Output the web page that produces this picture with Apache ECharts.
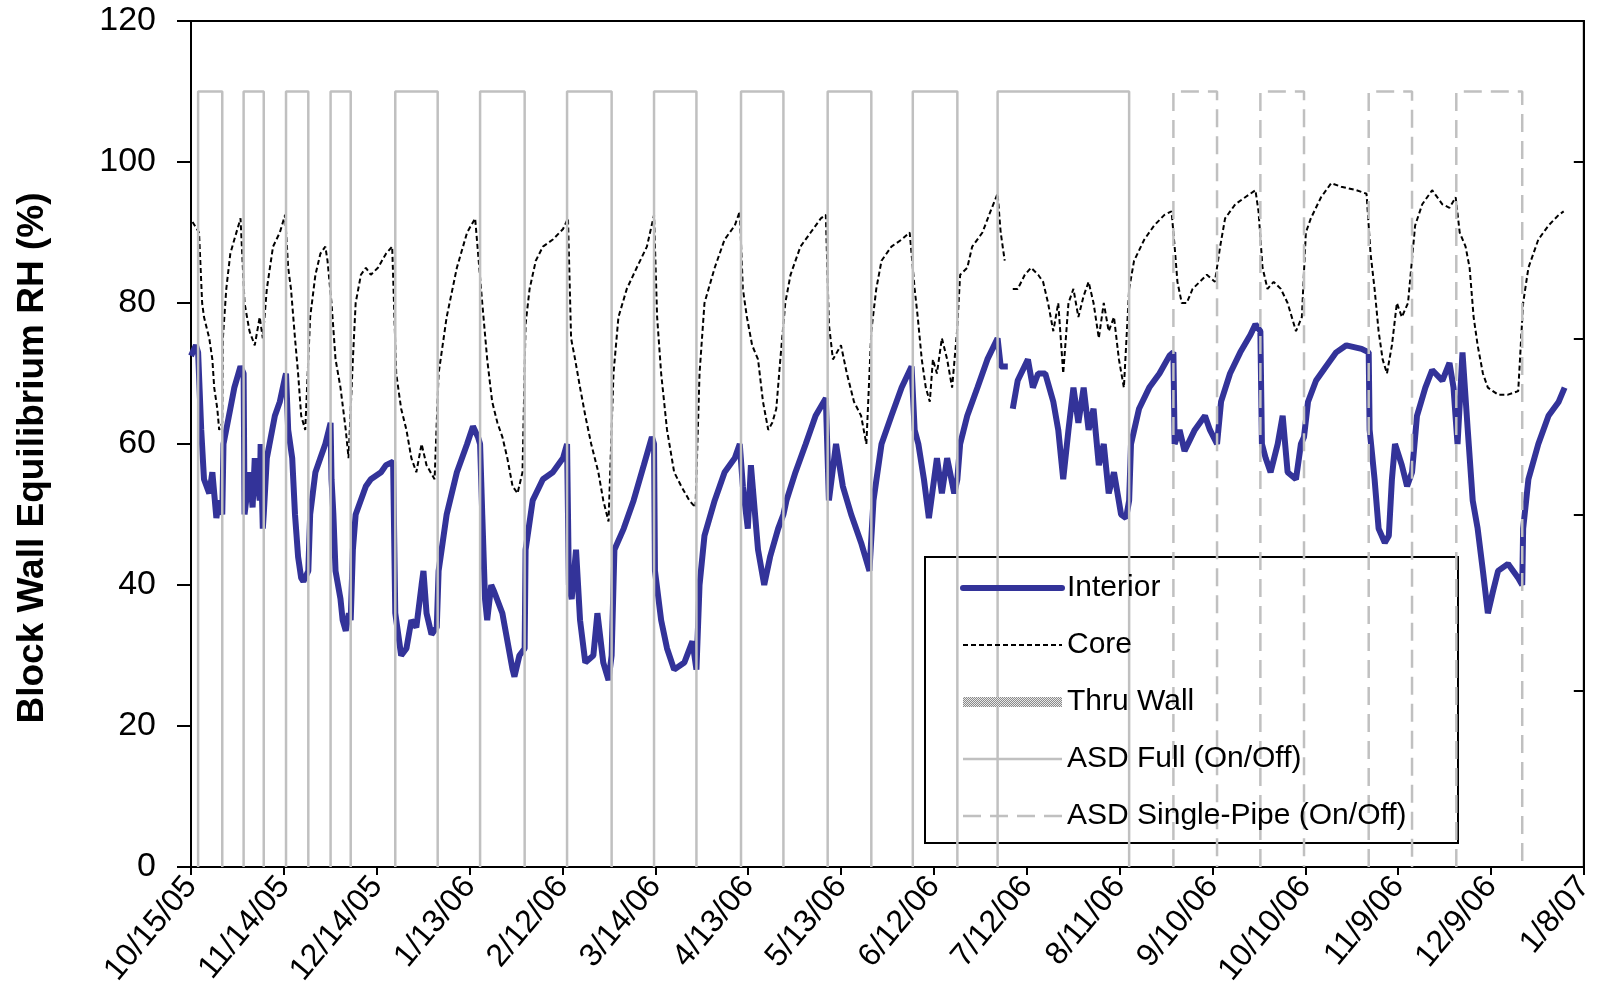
<!DOCTYPE html>
<html>
<head>
<meta charset="utf-8">
<script src="https://cdn.jsdelivr.net/npm/echarts@6/dist/echarts.min.js"></script>
<style>
html, body { margin: 0; padding: 0; background: #fff; }
#main { width: 1598px; height: 1000px; }
</style>
</head>
<body>
<div id="main"></div>
<script>
// x axis is days since 10/15/05, ticks every 30 days
const dateLabels = ['10/15/05', '11/14/05', '12/14/05', '1/13/06', '2/12/06', '3/14/06', '4/13/06', '5/13/06',
    '6/12/06', '7/12/06', '8/11/06', '9/10/06', '10/10/06', '11/9/06', '12/9/06', '1/8/07'];

// ASD on/off periods [start day, end day]
const asdFullPeriods = [[2.3, 10.1], [17.0, 23.5], [30.7, 37.9], [45.1, 51.6], [66.0, 79.7], [93.4, 107.8],
    [121.5, 135.9], [149.6, 163.3], [177.7, 191.4], [205.7, 219.8], [233.2, 247.6], [260.6, 303.1]];
const asdSinglePeriods = [[317.4, 331.5], [345.5, 359.6], [380.5, 394.5], [408.8, 430.1]];
const asdOn = 110;

// [day, RH %]
const interior = [[0, 72.5], [1.6, 74], [2.3, 73], [3.3, 62], [4.2, 55], [5.9, 53], [6.9, 56], [8.2, 49.5], [9.1, 52], [10.1, 50],
    [10.5, 60], [12.7, 65], [14.0, 68], [16.0, 71], [17.0, 70],
    [17.3, 50], [18.9, 56], [19.9, 51], [20.6, 58], [22.2, 52], [22.5, 60], [23.2, 48], [23.5, 50], [24.5, 58], [27.1, 64], [28.7, 66], [30.4, 69.5],
    [30.7, 70], [31.4, 62], [32.7, 58], [33.6, 50], [34.6, 44], [35.6, 41], [36.3, 40.5], [37.9, 42], [38.5, 50], [40.2, 56], [41.8, 58], [43.4, 60], [45.1, 63],
    [45.4, 55], [46.0, 50], [46.7, 42], [48.3, 38], [49.0, 35], [50.0, 33.5], [51.0, 36], [51.6, 35], [52.3, 45], [53.2, 50], [56.5, 54], [58.1, 55], [61.4, 56], [63.0, 57], [65.3, 57.5],
    [66.0, 36], [67.9, 30], [69.6, 31], [71.2, 35], [72.8, 34], [74.5, 40], [75.1, 42], [76.1, 36], [77.7, 33], [79.4, 34],
    [80.0, 42], [82.6, 50], [85.9, 56], [89.2, 60], [91.1, 62.5], [92.7, 61], [93.4, 60],
    [94.1, 50], [95.0, 38], [95.7, 35], [97.0, 40], [98.0, 39], [100.6, 36], [103.9, 28], [104.5, 27], [106.1, 30], [107.8, 31],
    [108.1, 45], [110.4, 52], [113.7, 55], [116.9, 56], [120.2, 58], [121.5, 60],
    [122.1, 40], [123.0, 38], [124.4, 45], [125.7, 35], [127.4, 29], [130.0, 30], [131.3, 36], [133.2, 29], [134.9, 26.5], [135.9, 30],
    [136.8, 45], [139.8, 48], [143.0, 52], [146.3, 57], [148.9, 61], [149.6, 60],
    [149.9, 42], [151.9, 35], [153.8, 31], [156.1, 28], [159.4, 29], [162.0, 32], [163.3, 28],
    [164.3, 40], [165.9, 47], [169.2, 52], [172.4, 56], [175.7, 58], [177.3, 60],
    [178.3, 54], [179.9, 48], [180.9, 57], [183.2, 45], [185.2, 40], [187.1, 44], [189.7, 48], [191.4, 50],
    [192.4, 52], [195.3, 56], [198.6, 60], [201.8, 64], [205.1, 66.5],
    [206.1, 52], [208.4, 60], [210.6, 54], [213.3, 50], [216.5, 46], [219.2, 42],
    [220.5, 52], [223.1, 60], [226.3, 64], [229.6, 68], [232.8, 71],
    [233.8, 62], [235.0, 60], [236.8, 55], [238.4, 49.5], [241.0, 58], [242.6, 53], [244.3, 58], [246.6, 53], [247.6, 55],
    [248.5, 60], [250.8, 64], [254.1, 68], [257.3, 72], [260.6, 75], [261.6, 71], [263.9, 71], [264.7, null],
    [265.5, 65], [267.1, 69], [270.4, 72], [272.0, 68], [273.7, 70], [276.0, 70],
    [278.6, 66], [280.2, 62], [281.8, 55], [283.5, 62], [285.1, 68], [286.7, 63], [288.4, 68], [290.0, 62], [291.6, 65], [293.3, 57],
    [294.9, 60], [296.5, 53], [298.2, 56], [300.5, 50], [302.1, 49.5], [303.1, 52],
    [303.7, 60], [306.3, 65], [309.6, 68], [312.9, 70], [316.1, 72.5], [317.4, 73],
    [317.8, 60], [319.4, 62], [321.0, 59], [324.3, 62], [327.6, 64], [329.2, 62], [331.5, 60],
    [332.8, 66], [335.7, 70], [339.0, 73], [342.3, 75.5], [343.9, 77], [345.5, 76],
    [346.0, 60], [347.2, 58], [348.8, 56], [351.1, 60], [352.7, 64], [354.3, 56], [357.0, 55], [358.6, 60], [359.6, 61],
    [360.9, 66], [363.5, 69], [366.7, 71], [370.0, 73], [373.3, 74], [378.2, 73.5], [380.5, 73],
    [380.8, 62], [382.4, 55], [383.7, 48], [385.7, 46], [387.0, 47],
    [388.0, 55], [389.0, 60], [391.2, 57], [392.9, 54], [394.5, 56],
    [396.1, 64], [398.8, 68], [401.0, 70.5], [404.3, 69], [406.6, 71.5], [407.9, 68], [409.2, 60], [410.8, 73], [412.5, 62],
    [414.1, 52], [415.7, 48], [417.4, 42], [419.0, 36], [420.6, 39], [422.3, 42], [425.5, 43], [428.8, 41], [430.1, 40],
    [430.4, 48], [432.1, 55], [435.3, 60], [438.6, 64], [441.9, 66], [443.8, 68]];

const core = [[0.5, 91.5], [2.6, 90], [3.6, 80], [4.2, 78], [5.9, 75], [6.9, 72], [7.5, 68], [8.5, 65], [9.1, 62], [10.1, 63],
    [10.3, 75], [11.4, 82], [12.7, 87], [14.0, 89], [16.0, 92],
    [17.3, 80], [18.9, 76], [20.6, 74], [22.2, 78], [23.2, 75],
    [24.5, 82], [26.5, 88], [28.7, 90], [30.4, 92.5],
    [31.4, 85], [32.3, 82], [33.6, 75], [34.6, 70], [35.6, 64], [36.9, 62],
    [38.5, 78], [40.2, 84], [41.8, 87], [43.4, 88], [44.1, 86],
    [45.4, 80], [46.7, 72], [48.3, 68], [50.0, 62], [50.9, 58],
    [52.3, 72], [53.2, 80], [54.9, 84], [56.5, 85], [58.1, 84], [60.4, 85], [63.0, 87], [65.0, 88],
    [66.3, 70], [67.9, 65], [69.6, 62], [71.2, 58], [72.8, 56], [74.5, 60], [76.1, 57], [78.7, 55],
    [80.0, 70], [82.6, 78], [85.9, 85], [89.2, 90], [91.8, 92],
    [94.1, 80], [95.7, 72], [97.3, 66], [99.0, 63], [100.6, 61], [102.2, 58], [103.9, 54], [105.5, 53], [107.1, 56],
    [108.1, 77], [109.4, 82], [111.4, 86], [113.7, 88], [116.9, 89], [120.2, 90.5], [121.8, 92],
    [122.8, 75], [124.1, 72], [125.7, 68], [127.4, 64], [129.3, 60], [131.6, 56], [133.2, 52], [134.9, 49],
    [136.5, 70], [138.1, 78], [140.8, 82], [144.0, 85], [147.3, 88], [149.6, 92.5],
    [150.6, 78], [151.9, 70], [153.8, 62], [156.1, 56], [158.4, 54], [161.0, 52], [163.0, 51],
    [164.3, 70], [165.9, 80], [169.2, 85], [172.4, 89], [175.7, 91], [177.3, 93],
    [178.3, 82], [179.6, 78], [181.3, 74], [183.2, 72], [184.8, 66], [186.5, 62], [187.8, 63], [189.1, 65], [190.4, 72],
    [192.0, 80], [193.7, 84], [196.9, 88], [200.2, 90], [203.5, 92], [205.1, 92.5],
    [206.1, 77], [207.4, 72], [210.0, 74], [211.9, 70], [214.2, 66], [216.5, 64], [218.2, 60],
    [219.8, 76], [221.4, 82], [223.1, 86], [226.3, 88], [229.6, 89], [232.2, 90],
    [233.8, 82], [234.8, 78], [236.1, 72], [237.4, 68], [238.7, 66], [239.7, 72], [241.0, 70], [242.6, 75], [244.3, 72], [245.9, 68], [247.5, 76],
    [248.5, 84], [250.8, 85], [252.4, 88], [255.7, 90], [258.3, 93], [260.6, 95.5],
    [261.6, 90], [262.9, 86], [264.0, null],
    [265.5, 82], [267.1, 82], [269.4, 84], [271.4, 85], [273.7, 84], [275.3, 83],
    [276.9, 80], [278.6, 76], [280.2, 80], [281.8, 70], [283.5, 80], [285.1, 82], [286.7, 78], [288.4, 81], [290.0, 83], [291.6, 80],
    [293.3, 75], [294.9, 80], [296.5, 76], [298.2, 78], [299.8, 72], [301.4, 68],
    [303.1, 82], [304.7, 86], [308.0, 89], [311.2, 91], [314.5, 92.5], [316.8, 93],
    [317.8, 88], [318.7, 83], [320.1, 80], [321.7, 80], [323.6, 82], [325.9, 83], [328.2, 84], [330.8, 83],
    [332.5, 88], [334.1, 92], [337.4, 94], [340.6, 95], [343.9, 96], [344.9, 93],
    [346.2, 85], [347.8, 82], [349.8, 83], [352.1, 82], [354.3, 80], [357.0, 76], [358.9, 78],
    [360.2, 90], [361.8, 92], [365.1, 95], [368.4, 97], [371.6, 96.5], [376.5, 96], [379.8, 95.5],
    [381.1, 87], [382.4, 82], [383.7, 76], [385.0, 72], [386.4, 70], [388.0, 74], [389.6, 80], [391.2, 78], [393.2, 80],
    [395.5, 91], [397.8, 94], [401.0, 96], [404.3, 94], [406.6, 93.5], [408.6, 95],
    [409.9, 90], [411.8, 88], [413.1, 85], [414.4, 78], [415.7, 74], [417.4, 70], [419.0, 68], [422.3, 67], [425.5, 67], [428.8, 67.5],
    [430.4, 80], [432.1, 85], [435.3, 89], [438.6, 91], [441.9, 92.5], [443.5, 93]];

const thruWall = [];

// build on/off step lines from the periods
function onOffLine(periods) {
    let pts = [];
    periods.forEach(p => {
        pts.push([p[0], 0], [p[0], asdOn], [p[1], asdOn], [p[1], 0], [p[1], null]);
    });
    return pts;
}

// stipple pattern for the Thru Wall legend swatch
const dots = document.createElement('canvas');
dots.width = 2;
dots.height = 2;
const dctx = dots.getContext('2d');
dctx.fillStyle = '#e8e8e8';
dctx.fillRect(0, 0, 2, 2);
dctx.fillStyle = '#8a8a8a';
dctx.fillRect(0, 0, 1, 1);
dctx.fillRect(1, 1, 1, 1);
const stipple = { image: dots, repeat: 'repeat' };

const font = "'Liberation Sans', Arial, sans-serif";

const chartDom = document.getElementById('main');
const myChart = echarts.init(chartDom, null, { renderer: 'canvas' });
let option = {
    animation: false,
    textStyle: { fontFamily: font },
    grid: {
        left: 191, right: 4, top: 21, bottom: 133,
        show: true, borderColor: '#000', borderWidth: 2
    },
    graphic: {
        elements: [{
            type: 'rect',
            left: 924, top: 556, z: 3,
            shape: { width: 533, height: 286 },
            style: { fill: '#fff', stroke: '#000', lineWidth: 2 }
        }]
    },
    legend: {
        orient: 'vertical',
        left: 953, top: 568,
        z: 5,
        itemWidth: 99, itemHeight: 12, itemGap: 27,
        itemStyle: { opacity: 0 },
        textStyle: { fontSize: 30, lineHeight: 30, color: '#000', fontFamily: font },
        data: [
            { name: 'Interior', lineStyle: { width: 6, cap: 'round' } },
            { name: 'Core', lineStyle: { width: 2 } },
            { name: 'Thru Wall', lineStyle: { width: 10, color: stipple } },
            { name: 'ASD Full (On/Off)', lineStyle: { width: 2.5 } },
            { name: 'ASD Single-Pipe (On/Off)', lineStyle: { width: 2.5 } }
        ]
    },
    xAxis: {
        type: 'value',
        min: 0, max: 450, interval: 30,
        axisLine: { lineStyle: { color: '#000', width: 2 } },
        axisTick: { length: 8, lineStyle: { color: '#000', width: 2 } },
        splitLine: { show: false },
        axisLabel: {
            rotate: 50, fontSize: 32, color: '#000', margin: 14, fontFamily: font,
            formatter: v => dateLabels[Math.round(v / 30)]
        }
    },
    yAxis: [
        {
            type: 'value',
            min: 0, max: 120, interval: 20,
            name: 'Block Wall Equilibrium RH (%)',
            nameLocation: 'middle', nameGap: 140,
            nameTextStyle: { fontSize: 37, fontWeight: 'bold', color: '#000', fontFamily: font, padding: [0, 28, 0, 0] },
            axisLine: { show: true, lineStyle: { color: '#000', width: 2 } },
            axisTick: { show: true, length: 14, lineStyle: { color: '#000', width: 2 } },
            splitLine: { show: false },
            axisLabel: { fontSize: 34, color: '#000', margin: 35, fontFamily: font }
        },
        {
            type: 'value',
            position: 'right',
            min: 0, max: 120, interval: 25,
            axisLine: { show: true, lineStyle: { color: '#000', width: 2 } },
            axisTick: { show: true, inside: true, length: 10, lineStyle: { color: '#000', width: 2 } },
            splitLine: { show: false },
            axisLabel: { show: false }
        }
    ],
    series: [
        {
            name: 'Interior', type: 'line', data: interior,
            symbol: 'none', color: '#333399',
            lineStyle: { color: '#333399', width: 6 }
        },
        {
            name: 'Core', type: 'line', data: core,
            symbol: 'none', color: '#000',
            lineStyle: { color: '#000', width: 2, type: [5, 3] }
        },
        {
            name: 'Thru Wall', type: 'line', data: thruWall,
            symbol: 'none', color: '#a0a0a0',
            lineStyle: { color: stipple, width: 10 }
        },
        {
            name: 'ASD Full (On/Off)', type: 'line', data: onOffLine(asdFullPeriods),
            symbol: 'none', color: '#c0c0c0',
            lineStyle: { color: '#c0c0c0', width: 2.5 }
        },
        {
            name: 'ASD Single-Pipe (On/Off)', type: 'line', data: onOffLine(asdSinglePeriods),
            symbol: 'none', color: '#c0c0c0',
            lineStyle: { color: '#c0c0c0', width: 2.5, type: [18, 9] }
        }
    ]
};

option && myChart.setOption(option);
</script>
</body>
</html>
